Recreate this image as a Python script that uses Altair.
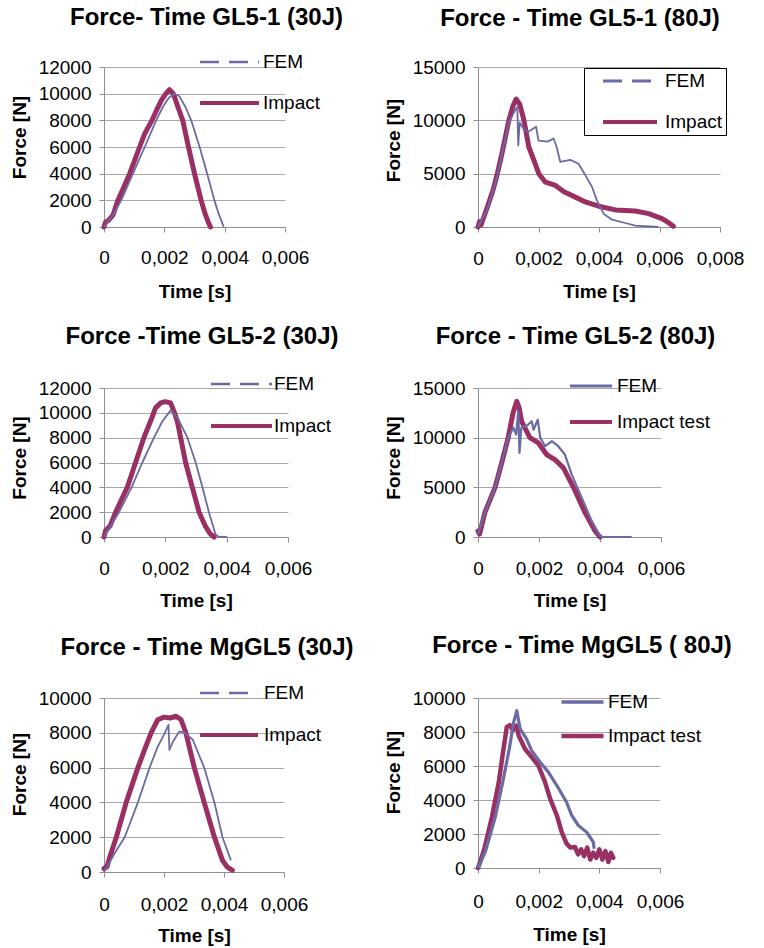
import altair as alt
import pandas as pd

FONT = "Liberation Sans"
FEM_COLOR = "#6a6aa6"
IMPACT_COLOR = "#992f62"
AXIS_COLOR = "#8f8f8f"
GRID_COLOR = "#a8a8a8"

# ---------------- tick values ----------------
x_ticks_6 = [0, 0.002, 0.004, 0.006]
x_ticks_8 = [0, 0.002, 0.004, 0.006, 0.008]
y_ticks_12k = [0, 2000, 4000, 6000, 8000, 10000, 12000]
y_ticks_15k = [0, 5000, 10000, 15000]
y_ticks_10k = [0, 2000, 4000, 6000, 8000, 10000]

# ---------------- data (time in ms, force in N) ----------------
# GL5-1 30J
gl51_30_fem_t = [0, 0.3, 0.57, 0.96, 1.35, 1.73, 1.95, 2.15, 2.34, 2.5, 2.7, 2.89, 3.17, 3.42, 3.66, 3.8, 3.97]
gl51_30_fem_f = [0, 900, 2000, 4000, 6000, 8000, 9000, 9700, 10000, 9800, 9000, 8000, 6000, 4000, 2000, 1000, 0]
gl51_30_imp_t = [0, 0.05, 0.15, 0.3, 0.46, 0.6, 0.85, 1.0, 1.18, 1.35, 1.59, 1.75, 1.9, 2.05, 2.17, 2.3, 2.45, 2.61, 2.8, 3.0, 3.22, 3.35, 3.45, 3.53]
gl51_30_imp_f = [0, 350, 500, 900, 2000, 2700, 4000, 4900, 6000, 7000, 8000, 8800, 9500, 10000, 10300, 10000, 9000, 8000, 6000, 4000, 2000, 1000, 400, 0]

# GL5-1 80J
gl51_80_fem_t = [0, 0.3, 0.64, 1.02, 1.2, 1.3, 1.33, 1.38, 1.5, 1.65, 1.92, 2.0, 2.3, 2.5, 2.6, 2.72, 3.05, 3.33, 3.52, 3.77, 3.93, 4.15, 4.43, 4.87, 5.2, 5.97]
gl51_80_fem_f = [0, 1600, 4800, 9800, 10800, 11250, 7650, 9800, 9200, 8900, 9400, 8100, 8000, 8300, 7500, 6100, 6300, 5900, 5000, 3750, 2500, 1250, 690, 375, 125, 0]
gl51_80_imp_t = [0, 0.05, 0.1, 0.3, 0.5, 0.64, 0.8, 1.02, 1.15, 1.26, 1.38, 1.52, 1.68, 1.85, 2.01, 2.23, 2.56, 2.84, 3.22, 3.55, 3.99, 4.54, 5.2, 5.64, 6.08, 6.3, 6.46]
gl51_80_imp_f = [0, 500, 200, 1800, 3500, 5000, 7000, 10000, 11300, 12000, 11500, 10000, 7500, 6250, 5000, 4200, 3900, 3300, 2800, 2350, 1950, 1600, 1500, 1250, 780, 400, 60]

# GL5-2 30J
gl52_30_fem_t = [0, 0.49, 0.9, 1.25, 1.63, 1.9, 2.17, 2.4, 2.72, 2.99, 3.21, 3.42, 3.64, 3.75, 4.02]
gl52_30_fem_f = [0, 2000, 4000, 6000, 8000, 9300, 10200, 9600, 8000, 6000, 4000, 2000, 200, 0, 0]
gl52_30_imp_t = [0, 0.05, 0.2, 0.38, 0.76, 1.03, 1.3, 1.52, 1.68, 1.85, 2.0, 2.17, 2.3, 2.39, 2.5, 2.66, 2.88, 3.1, 3.3, 3.45, 3.59]
gl52_30_imp_f = [0, 500, 900, 2000, 4000, 6000, 8000, 9340, 10400, 10800, 10900, 10800, 10000, 9340, 8000, 6000, 4000, 2000, 900, 300, 0]

# GL5-2 80J
gl52_80_fem_t = [0, 0.23, 0.56, 0.78, 0.99, 1.16, 1.25, 1.32, 1.36, 1.42, 1.6, 1.76, 1.82, 1.96, 2.04, 2.2, 2.42, 2.63, 2.85, 3.07, 3.4, 3.73, 4.0, 4.1, 5.04]
gl52_80_fem_f = [300, 2500, 5000, 7500, 10000, 11000, 10300, 12650, 8470, 11000, 11200, 11650, 10800, 11800, 10000, 9140, 9640, 9140, 8300, 6300, 3950, 1600, 100, 0, 0]
gl52_80_imp_t = [0, 0.05, 0.23, 0.56, 0.78, 0.99, 1.15, 1.27, 1.35, 1.43, 1.7, 1.98, 2.25, 2.52, 2.8, 3.13, 3.51, 3.84, 4.0]
gl52_80_imp_f = [600, 300, 2500, 5000, 7500, 10000, 12500, 13660, 13000, 11650, 10000, 9470, 8300, 7800, 6960, 5000, 2450, 600, 0]

# MgGL5 30J
mg_30_fem_t = [0, 0.35, 0.69, 1.13, 1.52, 1.79, 2.0, 2.15, 2.18, 2.3, 2.51, 2.7, 2.96, 3.34, 3.68, 3.95, 4.23]
mg_30_fem_f = [0, 1060, 2000, 4000, 6000, 7200, 7900, 8460, 7020, 7500, 8080, 8000, 7600, 6000, 4000, 2000, 670]
mg_30_imp_t = [0, 0.1, 0.2, 0.41, 0.74, 1.13, 1.35, 1.57, 1.79, 2.0, 2.2, 2.4, 2.57, 2.73, 3.01, 3.34, 3.68, 3.95, 4.1, 4.28]
mg_30_imp_f = [200, 300, 900, 2000, 4000, 6000, 7020, 8000, 8750, 8900, 8850, 8950, 8750, 8000, 6000, 4000, 2000, 670, 300, 100]

# MgGL5 80J
mg_80_fem_t = [0, 0.25, 0.57, 0.81, 1.03, 1.18, 1.28, 1.39, 1.6, 1.77, 2.05, 2.32, 2.6, 2.92, 3.09, 3.31, 3.58, 3.8, 3.83]
mg_80_fem_f = [0, 1000, 3000, 5000, 7000, 8600, 9250, 8180, 7590, 6900, 6220, 5640, 4850, 3870, 3090, 2500, 2110, 1530, 1135]
mg_80_imp_t = [0, 0.19, 0.46, 0.68, 0.84, 0.95, 1.05, 1.15, 1.28, 1.34, 1.55, 1.77, 1.99, 2.21, 2.38, 2.6, 2.76, 2.92, 3.05, 3.2, 3.3, 3.4, 3.5, 3.6, 3.7, 3.8, 3.9, 4.0, 4.1, 4.2, 4.3, 4.38, 4.46]
mg_80_imp_f = [0, 1000, 3000, 5000, 7000, 8300, 8400, 8100, 8380, 7790, 7000, 6520, 6030, 5050, 4070, 3090, 2110, 1430, 1200, 1230, 800, 1100, 700, 1200, 500, 900, 600, 1100, 500, 1000, 350, 900, 600]

panels = [
    dict(title="Force- Time GL5-1 (30J)", tdx=12, toff=3,
         fem=(gl51_30_fem_t, gl51_30_fem_f), imp=(gl51_30_imp_t, gl51_30_imp_f), imp_name="Impact",
         xmax=0.006, xt=x_ticks_6, ymax=12000, yt=y_ticks_12k, w=181, h=160, ty=-10, xlp=16, xtp=15,
         fem_w=1.8, imp_w=5, leg_fem_w=2.5, leg_imp_w=4, dashed=True, boxed=False,
         lx=94, ly=-15, symw=59, rowpad=21, loff=2, soff=0, pad=0),
    dict(title="Force - Time GL5-1 (80J)", tdx=-19, toff=8,
         fem=(gl51_80_fem_t, gl51_80_fem_f), imp=(gl51_80_imp_t, gl51_80_imp_f), imp_name="Impact",
         xmax=0.008, xt=x_ticks_8, ymax=15000, yt=y_ticks_15k, w=242, h=160, ty=-7, xlp=17, xtp=14,
         fem_w=1.8, imp_w=5, leg_fem_w=3, leg_imp_w=4, dashed=True, boxed=True,
         lx=106, ly=1, symw=54, rowpad=21, loff=6, soff=14, pad=3),
    dict(title="Force -Time GL5-2 (30J)", tdx=6, toff=6,
         fem=(gl52_30_fem_t, gl52_30_fem_f), imp=(gl52_30_imp_t, gl52_30_imp_f), imp_name="Impact",
         xmax=0.006, xt=x_ticks_6, ymax=12000, yt=y_ticks_12k, w=184, h=149, ty=-5, xlp=17, xtp=13,
         fem_w=1.8, imp_w=5, leg_fem_w=2.5, leg_imp_w=4, dashed=True, boxed=False,
         lx=105, ly=-14, symw=61, rowpad=22, loff=0, soff=0, pad=0),
    dict(title="Force - Time GL5-2 (80J)", tdx=6, toff=8,
         fem=(gl52_80_fem_t, gl52_80_fem_f), imp=(gl52_80_imp_t, gl52_80_imp_f), imp_name="Impact test",
         xmax=0.006, xt=x_ticks_6, ymax=15000, yt=y_ticks_15k, w=183, h=149, ty=-5, xlp=17, xtp=13,
         fem_w=2.2, imp_w=5, leg_fem_w=3, leg_imp_w=4, dashed=False, boxed=False,
         lx=90, ly=-12, symw=42, rowpad=16, loff=3, soff=0, pad=0),
    dict(title="Force - Time MgGL5 (30J)", tdx=13, toff=4,
         fem=(mg_30_fem_t, mg_30_fem_f), imp=(mg_30_imp_t, mg_30_imp_f), imp_name="Impact",
         xmax=0.006, xt=x_ticks_6, ymax=10000, yt=y_ticks_10k, w=180, h=174, ty=-11, xlp=18, xtp=12,
         fem_w=1.8, imp_w=5, leg_fem_w=2.5, leg_imp_w=4, dashed=True, boxed=False,
         lx=94, ly=-15, symw=58, rowpad=22, loff=4, soff=0, pad=0),
    dict(title="Force - Time MgGL5 ( 80J)", tdx=13, toff=12,
         fem=(mg_80_fem_t, mg_80_fem_f), imp=(mg_80_imp_t, mg_80_imp_f), imp_name="Impact test",
         xmax=0.006, xt=x_ticks_6, ymax=10000, yt=y_ticks_10k, w=182, h=170, ty=-11, xlp=19, xtp=14,
         fem_w=3.2, imp_w=4.5, leg_fem_w=3.5, leg_imp_w=4.5, dashed=False, boxed=False,
         lx=81, ly=-6, symw=42, rowpad=14, loff=2, soff=0, pad=0),
]


def make_panel(p):
    fem = pd.DataFrame({"t": [v / 1000 for v in p["fem"][0]], "F": p["fem"][1], "series": "FEM"})
    imp = pd.DataFrame({"t": [v / 1000 for v in p["imp"][0]], "F": p["imp"][1], "series": p["imp_name"]})
    both = pd.concat([fem, imp], ignore_index=True)
    domain = ["FEM", p["imp_name"]]

    leg_kwargs = dict(
        orient="none", legendX=p["lx"], legendY=p["ly"], title=None,
        symbolType="stroke", symbolSize=p["symw"] ** 2, clipHeight=20,
        rowPadding=p["rowpad"], labelOffset=p["loff"], labelFont=FONT,
        labelFontSize=19, labelColor="black", labelLimit=300, symbolOpacity=1,
        padding=p["pad"],
    )
    if p["boxed"]:
        leg_kwargs.update(strokeColor="black", fillColor="white", symbolOffset=p["soff"])
    legend = alt.Legend(**leg_kwargs)

    x = alt.X("t:Q", scale=alt.Scale(domain=[0, p["xmax"]], nice=False, zero=False),
              axis=alt.Axis(values=p["xt"], title="Time [s]", grid=False,
                            labelExpr="datum.value == 0 ? '0' : replace(format(datum.value, '.3f'), '.', ',')",
                            tickSize=5, labelPadding=p["xlp"], titlePadding=p["xtp"],
                            labelFlush=False, labelOverlap=False))
    y = alt.Y("F:Q", scale=alt.Scale(domain=[0, p["ymax"]], nice=False),
              axis=alt.Axis(values=p["yt"], title="Force [N]", format="d", grid=True,
                            tickSize=5, labelPadding=8, titlePadding=9,
                            titleY=p["h"] / 2 + p["ty"], labelOverlap=False))
    color = alt.Color("series:N", scale=alt.Scale(domain=domain, range=[FEM_COLOR, IMPACT_COLOR]), legend=legend)

    imp_line = alt.Chart(imp).mark_line(strokeWidth=p["imp_w"], strokeJoin="round", strokeCap="round").encode(
        x=x, y=y, color=color)
    fem_line = alt.Chart(fem).mark_line(strokeWidth=p["fem_w"], strokeJoin="round").encode(
        x=x, y=y, color=color)

    # legend-only layer (draws no line: every row filtered out; the legend comes from the explicit scales)
    enc = dict(
        x=x, y=y, color=color,
        strokeWidth=alt.StrokeWidth("series:N", scale=alt.Scale(domain=domain, range=[p["leg_fem_w"], p["leg_imp_w"]]),
                                    legend=legend),
    )
    if p["dashed"]:
        enc["strokeDash"] = alt.StrokeDash("series:N", scale=alt.Scale(domain=domain, range=[[19, 10], [1, 0]]),
                                           legend=legend)
    legend_layer = alt.Chart(both).transform_filter("false").mark_line().encode(**enc)

    return alt.layer(imp_line, fem_line, legend_layer).properties(
        width=p["w"], height=p["h"],
        title=alt.TitleParams(text=p["title"], font=FONT, fontSize=24, fontWeight="bold",
                              color="black", anchor="middle", frame="group", dx=p["tdx"],
                              offset=p["toff"], baseline="alphabetic"),
    )


chart = alt.concat(*[make_panel(p) for p in panels], columns=2,
                   spacing={"row": 161, "column": 190}, bounds="flush", align="each").resolve_scale(
    color="independent", strokeWidth="independent", strokeDash="independent"
).resolve_legend(
    color="independent", strokeWidth="independent", strokeDash="independent"
).properties(
    padding={"left": 10, "top": 6, "right": 5, "bottom": 2},
    background="white",
).configure_view(strokeWidth=0).configure_axis(
    labelFont=FONT, labelFontSize=19, labelColor="black",
    titleFont=FONT, titleFontSize=19, titleFontWeight="bold", titleColor="black",
    domainColor=AXIS_COLOR, tickColor=AXIS_COLOR, gridColor=GRID_COLOR,
    domainWidth=1, tickWidth=1, gridWidth=1,
)

chart.save("out.html", embed_options={"renderer": "svg", "actions": False})
